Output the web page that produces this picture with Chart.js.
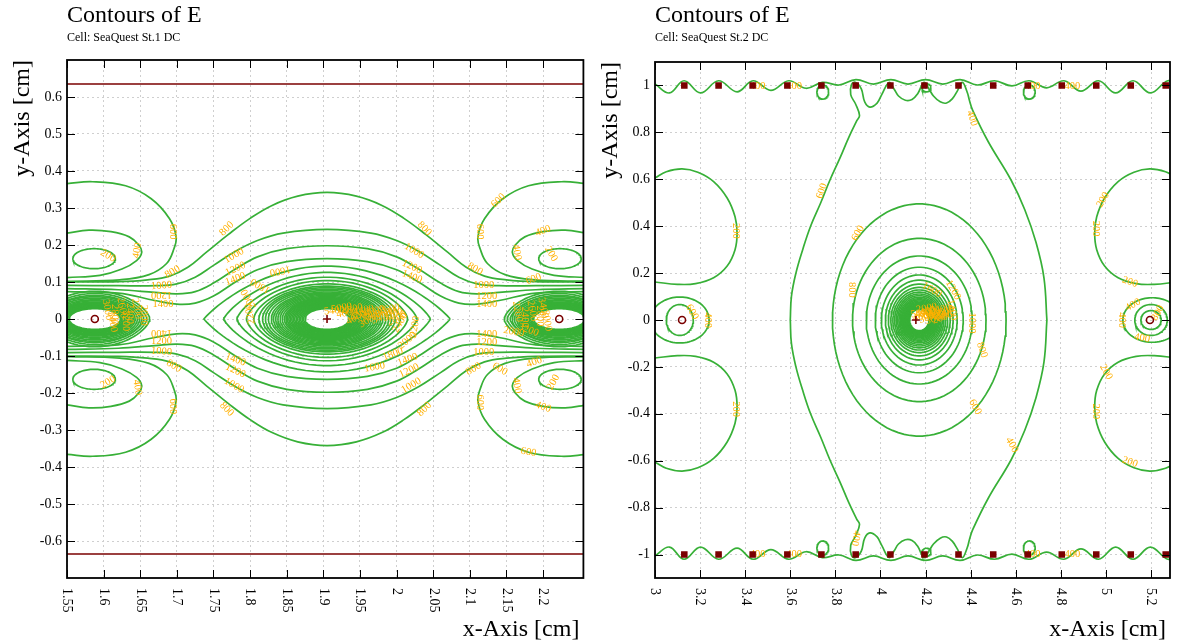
<!DOCTYPE html>
<html>
<head>
<meta charset="utf-8">
<title>Contours of E</title>
<script src="https://cdn.jsdelivr.net/npm/chart.js@4.4.1/dist/chart.umd.min.js"></script>
<style>
  body { margin: 0; background: #fff; }
  #page { position: relative; width: 1178px; height: 643px; }
  canvas { position: absolute; top: 0; }
</style>
</head>
<body>
<div id="page">
  <canvas id="st1" width="589" height="643" style="left:0"></canvas>
  <canvas id="st2" width="589" height="643" style="left:589px"></canvas>
</div>
<script>
const GREEN = '#37b037';
const LABEL = '#ffb000';
const WIRE = '#7a0000';
const SERIF = '"Liberation Serif", "Times New Roman", serif';

// ---------- St.1 (left panel) ----------
const st1XTicks = [1.55, 1.6, 1.65, 1.7, 1.75, 1.8, 1.85, 1.9, 1.95, 2, 2.05, 2.1, 2.15, 2.2];
const st1YTicks = [-0.6, -0.5, -0.4, -0.3, -0.2, -0.1, 0, 0.1, 0.2, 0.3, 0.4, 0.5, 0.6];
const st1Anode = [[1.905, 0]];
const st1FieldWires = [[1.588, 0], [2.222, 0]];
const st1PlaneY = [0.635, -0.635];

// open contours, upper-left half (left edge -> top over the anode)
const st1Open800 = [[1.55, 0.100], [1.62, 0.101], [1.66, 0.106], [1.69, 0.116], [1.715, 0.140], [1.74, 0.180], [1.77, 0.228], [1.80, 0.272], [1.83, 0.307], [1.865, 0.332], [1.905, 0.342]];
const st1Open1000 = [[1.55, 0.091], [1.62, 0.090], [1.67, 0.090], [1.70, 0.095], [1.725, 0.113], [1.75, 0.145], [1.78, 0.183], [1.81, 0.212], [1.845, 0.232], [1.905, 0.242]];
const st1Open1200 = [[1.55, 0.082], [1.62, 0.079], [1.67, 0.072], [1.70, 0.068], [1.725, 0.074], [1.75, 0.097], [1.78, 0.135], [1.81, 0.168], [1.85, 0.190], [1.905, 0.198]];
const st1Open1400 = [[1.55, 0.074], [1.62, 0.070], [1.67, 0.050], [1.70, 0.040], [1.725, 0.043], [1.75, 0.062], [1.78, 0.100], [1.81, 0.133], [1.85, 0.155], [1.905, 0.163]];

// side lobes next to the field wire, upper-left
const st1Lobe600 = [[1.55, 0.366], [1.585, 0.371], [1.63, 0.360], [1.665, 0.325], [1.69, 0.271], [1.699, 0.222], [1.696, 0.190], [1.686, 0.150], [1.662, 0.120], [1.622, 0.106], [1.55, 0.102]];
const st1Lobe400 = [[1.55, 0.232], [1.58, 0.240], [1.61, 0.236], [1.635, 0.222], [1.648, 0.200], [1.652, 0.180], [1.645, 0.158], [1.625, 0.135], [1.595, 0.118], [1.55, 0.112]];
const st1Lobe200 = { cx: 1.587, cy: 0.163, rx: 0.029, ry: 0.027 };

// closed rings round the anode (half widths / half heights)
const st1EyeRx = [0.168, 0.141, 0.123, 0.110, 0.100, 0.093, 0.088, 0.084, 0.080, 0.076, 0.073, 0.070, 0.067, 0.064, 0.061,
  0.058, 0.056, 0.054, 0.052, 0.050, 0.048, 0.046, 0.044, 0.042, 0.040, 0.038, 0.036, 0.034, 0.032, 0.030];
const st1EyeRy = [0.143, 0.126, 0.113, 0.104, 0.095, 0.089, 0.085, 0.081, 0.077, 0.073, 0.070, 0.067, 0.064, 0.061, 0.058,
  0.056, 0.054, 0.052, 0.050, 0.048, 0.046, 0.044, 0.042, 0.040, 0.038, 0.036, 0.034, 0.032, 0.030, 0.028];
const st1EyeTip = [1.8, 1.6, 1.45, 1.3, 1.2, 1.1, 1.05];

// rings round the field wires
const st1WireRx = [0.075, 0.071, 0.067, 0.064, 0.061, 0.058, 0.055, 0.053, 0.051, 0.049, 0.047, 0.045, 0.043, 0.041, 0.039, 0.037, 0.035];
const st1WireRy = [0.075, 0.069, 0.064, 0.060, 0.056, 0.052, 0.049, 0.046, 0.044, 0.042, 0.040, 0.038, 0.036, 0.034, 0.032, 0.030, 0.028];

const st1Labels = [
  [1.606, 0.171, '200', 30], [1.646, 0.185, '400', -80], [1.694, 0.236, '600', 90], [1.694, 0.127, '800', -30],
  [1.679, 0.090, '1000', -5], [1.679, 0.065, '1200', 180], [1.681, 0.040, '1400', 0],
  [1.606, -0.171, '200', -30], [1.646, -0.185, '400', 80], [1.694, -0.236, '600', 90], [1.696, -0.127, '800', 30],
  [1.679, -0.088, '1000', 5], [1.679, -0.060, '1200', 0], [1.679, -0.036, '1400', 180],
  [1.768, 0.244, '800', -45], [1.778, 0.171, '1000', -30], [1.780, 0.135, '1200', -25], [1.780, 0.108, '1400', -20],
  [1.841, 0.130, '1600', 170], [1.814, 0.090, '1800', -150], [1.798, 0.054, '2000', -120], [1.800, 0.014, '2200', -100],
  [1.768, -0.244, '800', 45], [1.778, -0.180, '1000', 30], [1.780, -0.140, '1200', 25], [1.780, -0.110, '1400', 20],
  [2.038, 0.244, '800', 45], [2.024, 0.184, '1000', 30], [2.021, 0.141, '1200', 25], [2.021, 0.114, '1400', 20],
  [2.038, -0.244, '800', -45], [2.020, -0.180, '1000', -30], [2.017, -0.140, '1200', -25], [2.015, -0.110, '1400', -20],
  [1.970, -0.130, '1600', -10], [1.995, -0.095, '1800', -20], [2.015, -0.058, '2000', -40], [2.025, -0.020, '2200', -80],
  [2.139, 0.320, '600', -45], [2.114, 0.236, '600', 90], [2.200, 0.238, '400', -20], [2.164, 0.180, '400', 80],
  [2.211, 0.176, '200', 60], [2.187, 0.108, '600', -20], [2.107, 0.135, '800', 30],
  [2.119, 0.090, '1000', 0], [2.123, 0.062, '1200', 0], [2.123, 0.041, '1400', 0],
  [2.123, -0.041, '1400', 0], [2.123, -0.062, '1200', 0], [2.119, -0.090, '1000', 0],
  [2.105, -0.135, '800', -30], [2.141, -0.135, '600', 30], [2.188, -0.117, '400', -20],
  [2.214, -0.171, '200', -60], [2.164, -0.180, '400', 80], [2.114, -0.225, '600', 90], [2.200, -0.238, '400', 20], [2.180, -0.360, '600', 10],
  // crowded labels next to the wires
  [1.925, 0.030, '5000', -10], [1.940, 0.026, '4800', -15], [1.955, 0.024, '4400', -10], [1.970, 0.021, '4000', -15],
  [1.985, 0.017, '3600', -10], [1.995, 0.011, '3200', -20], [2.000, 0.002, '2800', -30], [1.932, 0.016, '4600', -10],
  [1.950, 0.011, '4200', -20], [1.965, 0.007, '3800', -15], [1.980, 0.004, '3400', -20], [1.945, 0.003, '4000', -25],
  [1.962, -0.003, '3000', -30], [1.990, 0.027, '2600', -10], [2.005, -0.010, '2400', -60], [1.915, 0.022, '5400', -5],
  [1.605, 0.025, '3000', 80], [1.615, 0.012, '2800', 90], [1.625, 0.030, '2600', 80], [1.635, 0.015, '2400', 90],
  [1.645, 0.028, '2200', 80], [1.655, 0.010, '2000', 90], [1.612, -0.008, '3400', 80], [1.630, -0.005, '3200', 90],
  [2.165, 0.020, '2200', 80], [2.175, 0.005, '2400', 90], [2.185, 0.022, '2600', 80], [2.195, 0.008, '2800', 90],
  [2.205, -0.005, '3000', 80], [2.180, -0.030, '3200', 20], [2.160, -0.035, '2000', 10], [2.200, 0.030, '3400', 80]
];

// ---------- St.2 (right panel) ----------
const st2XTicks = [3, 3.2, 3.4, 3.6, 3.8, 4, 4.2, 4.4, 4.6, 4.8, 5, 5.2];
const st2YTicks = [-1, -0.8, -0.6, -0.4, -0.2, 0, 0.2, 0.4, 0.6, 0.8, 1];
const st2Anode = [[4.157, 0]];
const st2FieldWires = [[3.12, 0], [5.195, 0]];
const st2CathodeX = [3.130, 3.282, 3.433, 3.587, 3.738, 3.890, 4.044, 4.195, 4.346, 4.500, 4.653, 4.804, 4.957, 5.110, 5.265];
const st2CathodeY = [1, -1];

// wavy contour along the upper cathode row
const st2TopWave = [[3.0, 1.006], [3.064, 0.968], [3.129, 1.020], [3.202, 0.968], [3.282, 1.020], [3.364, 0.973], [3.435, 1.020],
  [3.514, 0.979], [3.593, 1.020], [3.670, 0.988], [3.742, 1.013], [3.816, 1.002], [3.891, 1.025], [3.969, 1.006], [4.046, 1.025],
  [4.122, 1.006], [4.200, 1.025], [4.276, 1.006], [4.353, 1.025], [4.430, 1.002], [4.506, 1.020], [4.583, 0.998], [4.659, 1.020],
  [4.737, 0.990], [4.814, 1.020], [4.889, 0.976], [4.967, 1.020], [5.043, 0.968], [5.120, 1.020], [5.197, 0.968], [5.274, 1.020], [5.31, 1.0]];
const st2WireLoops = [[3.744, 0.972, 0.026, 0.030], [4.660, 0.972, 0.026, 0.030], [4.204, 0.990, 0.020, 0.017]];

// big 400 contour, upper half, left to right
const st2Outer400 = [[3.60, 0], [3.605, 0.10], [3.625, 0.20], [3.655, 0.30], [3.690, 0.40], [3.735, 0.50], [3.776, 0.597], [3.82, 0.690],
  [3.86, 0.780], [3.895, 0.850], [3.907, 0.872], [3.890, 0.920], [3.868, 0.961], [3.872, 1.005], [3.890, 1.013], [3.915, 0.985],
  [3.930, 0.930], [3.953, 0.908], [3.985, 0.925], [4.005, 0.960], [4.038, 1.013], [4.060, 0.985], [4.080, 0.955], [4.110, 0.937],
  [4.140, 0.940], [4.165, 0.965], [4.193, 1.013], [4.215, 0.985], [4.235, 0.955], [4.265, 0.930], [4.293, 0.925], [4.320, 0.945],
  [4.340, 0.975], [4.363, 1.013], [4.385, 0.970], [4.394, 0.938], [4.409, 0.894], [4.478, 0.760], [4.579, 0.597], [4.640, 0.470],
  [4.690, 0.330], [4.725, 0.180], [4.738, 0]];

// side lobes at the cell edge, upper-left
const st2SideLobe = [[3.0, 0.606], [3.05, 0.632], [3.12, 0.644], [3.19, 0.630], [3.26, 0.590], [3.32, 0.520], [3.355, 0.440],
  [3.364, 0.371], [3.355, 0.300], [3.32, 0.230], [3.26, 0.180], [3.18, 0.155], [3.10, 0.152], [3.0, 0.162]];

// rings round field wires: [cx, rx, ry]
const st2FieldRings = [[3.11, 0.130, 0.098], [3.11, 0.060, 0.066], [5.205, 0.130, 0.095], [5.20, 0.072, 0.066], [5.20, 0.045, 0.040]];

// rings round the anode
const st2RingCx = 4.172;
const st2RingRx = [0.385, 0.296, 0.235, 0.195, 0.168, 0.150, 0.137, 0.126, 0.117, 0.109, 0.102, 0.096, 0.090, 0.085, 0.080,
  0.076, 0.072, 0.068, 0.064, 0.061, 0.058, 0.055, 0.052, 0.049, 0.046, 0.043];
const st2RingRy = [0.495, 0.348, 0.273, 0.225, 0.192, 0.170, 0.153, 0.139, 0.128, 0.119, 0.111, 0.104, 0.097, 0.091, 0.086,
  0.081, 0.076, 0.072, 0.068, 0.064, 0.060, 0.057, 0.054, 0.051, 0.048, 0.045];

const st2Labels = [
  [3.235, 0.0, '400', 90], [3.164, 0.034, '600', 60], [3.36, 0.38, '200', 90], [3.36, -0.38, '200', 90],
  [4.955, 0.39, '200', 90], [4.955, -0.39, '200', 90], [4.987, 0.512, '200', -60], [5.106, 0.162, '200', 20],
  [5.0, -0.222, '200', 60], [5.106, -0.606, '200', 20],
  [5.07, 0.0, '400', 90], [5.12, 0.064, '400', -30], [5.16, -0.077, '400', 10], [5.23, 0.03, '800', -60],
  [3.90, 0.37, '600', -60], [3.874, 0.128, '800', 90], [4.406, -0.013, '1000', 90], [4.45, -0.128, '800', 70],
  [4.419, -0.371, '600', 60], [4.583, -0.533, '400', 60], [4.322, 0.128, '1200', 60], [4.317, 0.043, '1400', 80],
  [4.228, 0.128, '1600', 30], [4.406, 0.86, '400', 70], [3.89, -0.93, '400', 100], [3.74, 0.55, '600', -70],
  [3.455, 0.998, '400', 0], [3.617, 0.998, '400', 0], [4.675, 0.998, '400', 0], [4.851, 0.998, '400', 0],
  [3.455, -0.998, '400', 0], [3.617, -0.998, '400', 0], [4.675, -0.998, '400', 0], [4.851, -0.998, '400', 0],
  [4.180, 0.030, '5000', -10], [4.200, 0.034, '4400', -15], [4.220, 0.030, '4000', -10], [4.240, 0.025, '3600', -15],
  [4.260, 0.020, '3200', -10], [4.275, 0.010, '2800', -20], [4.190, 0.015, '4600', -10], [4.215, 0.012, '3800', -20],
  [4.245, 0.005, '3000', -15], [4.265, 0.045, '2400', -10], [4.285, 0.030, '2200', -30], [4.205, 0.050, '2000', -10]
];

// ---------- helpers ----------
const pts = a => a.map(([x, y]) => ({ x, y }));
const flipY = a => a.map(p => ({ x: p.x, y: -p.y }));
const flipX = (a, cx) => a.map(p => ({ x: 2 * cx - p.x, y: p.y }));

function ring(cx, cy, rx, ry, tip) {
  const out = [];
  for (let i = 0; i <= 90; i++) {
    const t = (i / 90) * 2 * Math.PI;
    const s = Math.sin(t);
    out.push({ x: cx + rx * Math.cos(t), y: cy + ry * Math.sign(s) * Math.pow(Math.abs(s), tip || 1) });
  }
  return out;
}

function contour(data, tension) {
  return { data, showLine: true, borderColor: GREEN, borderWidth: 1.7, pointRadius: 0, tension: tension, order: 2 };
}

function markers(list, style, filled, r) {
  return {
    data: pts(list), showLine: false, pointStyle: style, pointRadius: r, borderColor: WIRE, borderWidth: 1.6,
    backgroundColor: filled ? WIRE : 'rgba(0,0,0,0)', order: 0
  };
}

// ---------- build St.1 datasets ----------
const st1Sets = [];
const c1 = 1.905;
[st1Open800, st1Open1000, st1Open1200, st1Open1400].forEach(h => {
  const half = pts(h);
  const upper = half.concat(flipX(half.slice().reverse(), c1).slice(1));
  st1Sets.push(contour(upper, 0.4), contour(flipY(upper), 0.4));
});
[st1Lobe600, st1Lobe400].forEach(h => {
  const l = pts(h);
  const r = flipX(l, c1);
  st1Sets.push(contour(l, 0.4), contour(flipY(l), 0.4), contour(r, 0.4), contour(flipY(r), 0.4));
});
[[st1Lobe200.cx, st1Lobe200.cy], [st1Lobe200.cx, -st1Lobe200.cy], [2 * c1 - st1Lobe200.cx, st1Lobe200.cy], [2 * c1 - st1Lobe200.cx, -st1Lobe200.cy]]
  .forEach(([cx, cy]) => st1Sets.push(contour(ring(cx, cy, st1Lobe200.rx, st1Lobe200.ry), 0)));
st1EyeRx.forEach((rx, i) => st1Sets.push(contour(ring(c1, 0, rx, st1EyeRy[i], st1EyeTip[i] || 1), 0)));
st1FieldWires.forEach(([wx]) => {
  st1WireRx.forEach((rx, i) => st1Sets.push(contour(ring(wx, 0, rx, st1WireRy[i], i < 3 ? 1.3 : 1), 0)));
});
st1PlaneY.forEach(py => st1Sets.push({
  data: [{ x: 1.5, y: py }, { x: 2.3, y: py }], showLine: true, borderColor: WIRE, borderWidth: 1.5, pointRadius: 0, order: 1
}));
st1Sets.push(markers(st1Anode, 'cross', false, 4), markers(st1FieldWires, 'circle', false, 3.5));

// ---------- build St.2 datasets ----------
const st2Sets = [];
const c2 = 4.157;
const wave = pts(st2TopWave);
st2Sets.push(contour(wave, 0.4), contour(flipY(wave), 0.4));
st2WireLoops.forEach(([cx, cy, rx, ry]) => st2Sets.push(contour(ring(cx, cy, rx, ry), 0), contour(ring(cx, -cy, rx, ry), 0)));
const outer = pts(st2Outer400);
st2Sets.push(contour(outer, 0.4), contour(flipY(outer), 0.4));
const side = pts(st2SideLobe);
st2Sets.push(contour(side, 0.4), contour(flipY(side), 0.4), contour(flipX(side, c2), 0.4), contour(flipY(flipX(side, c2)), 0.4));
st2FieldRings.forEach(([cx, rx, ry]) => st2Sets.push(contour(ring(cx, 0, rx, ry), 0)));
st2RingRx.forEach((rx, i) => st2Sets.push(contour(ring(st2RingCx, 0, rx, st2RingRy[i], 1), 0)));
const cathodes = [];
st2CathodeY.forEach(y => st2CathodeX.forEach(x => cathodes.push([x, y])));
st2Sets.push(markers(cathodes, 'rect', true, 3.5), markers(st2Anode, 'cross', false, 4), markers(st2FieldWires, 'circle', false, 3.5));

// ---------- drawing ----------
function panelPlugin(p) {
  let labelsDone = false;
  const drawLabels = chart => {
    const { ctx, chartArea: a, scales: { x, y } } = chart;
    ctx.save();
    ctx.beginPath();
    ctx.rect(a.left, a.top, a.width, a.height);
    ctx.clip();
    ctx.fillStyle = LABEL;
    ctx.font = '10.5px ' + SERIF;
    ctx.textAlign = 'center';
    ctx.textBaseline = 'middle';
    p.labels.forEach(([lx, ly, t, ang]) => {
      ctx.save();
      ctx.translate(x.getPixelForValue(lx), y.getPixelForValue(ly));
      ctx.rotate(ang * Math.PI / 180);
      ctx.fillText(t, 0, 0);
      ctx.restore();
    });
    ctx.restore();
  };
  return {
    id: 'panel' + p.name,
    beforeDatasetsDraw() { labelsDone = false; },
    beforeDatasetDraw(chart, args) {
      if (!labelsDone && args.meta.order === 0) { drawLabels(chart); labelsDone = true; }
    },
    afterDraw(chart) {
      const { ctx, chartArea: a, scales: { x, y } } = chart;
      ctx.save();
      ctx.strokeStyle = '#000';
      ctx.lineWidth = 1;
      ctx.beginPath();
      p.xTicks.forEach(v => {
        const px = Math.round(x.getPixelForValue(v)) + 0.5;
        ctx.moveTo(px, a.bottom); ctx.lineTo(px, a.bottom - 8);
        ctx.moveTo(px, a.top); ctx.lineTo(px, a.top + 8);
      });
      p.yTicks.forEach(v => {
        const py = Math.round(y.getPixelForValue(v)) + 0.5;
        ctx.moveTo(a.left, py); ctx.lineTo(a.left + 8, py);
        ctx.moveTo(a.right, py); ctx.lineTo(a.right - 8, py);
      });
      ctx.stroke();
      ctx.lineWidth = 1.8;
      ctx.strokeRect(a.left, a.top, a.width, a.height);

      ctx.fillStyle = '#000';
      ctx.font = '14px ' + SERIF;
      ctx.textAlign = 'right';
      ctx.textBaseline = 'middle';
      p.yTicks.forEach(v => ctx.fillText(String(v), a.left - 5, y.getPixelForValue(v)));
      ctx.textAlign = 'left';
      p.xTicks.forEach(v => {
        ctx.save();
        ctx.translate(x.getPixelForValue(v), a.bottom + 10);
        ctx.rotate(Math.PI / 2);
        ctx.fillText(String(v), 0, 0);
        ctx.restore();
      });

      ctx.textBaseline = 'alphabetic';
      ctx.font = '24px ' + SERIF;
      ctx.fillText('Contours of E', a.left, 22);
      ctx.font = '12px ' + SERIF;
      ctx.fillText(p.subtitle, a.left, 41);
      ctx.font = '24px ' + SERIF;
      ctx.textAlign = 'right';
      ctx.fillText('x-Axis [cm]', a.right - 4, 636);
      ctx.save();
      ctx.translate(p.yTitleX, a.top);
      ctx.rotate(-Math.PI / 2);
      ctx.fillText('y-Axis [cm]', 0, 0);
      ctx.restore();
      ctx.restore();
    }
  };
}

function makePanel(p) {
  const axis = (min, max, ticks) => ({
    type: 'linear', min, max,
    afterBuildTicks: s => { s.ticks = ticks.map(v => ({ value: v })); },
    ticks: { display: false },
    grid: { color: '#cfcfcf', lineWidth: 1, drawTicks: false },
    border: { display: false, dash: [2, 3] }
  });
  return new Chart(document.getElementById(p.name), {
    type: 'scatter',
    data: { datasets: p.sets },
    options: {
      responsive: false,
      animation: false,
      devicePixelRatio: 1,
      layout: { padding: p.pad },
      plugins: { legend: { display: false }, tooltip: { enabled: false } },
      scales: { x: axis(p.xMin, p.xMax, p.xTicks), y: axis(p.yMin, p.yMax, p.yTicks) }
    },
    plugins: [panelPlugin(p)]
  });
}

makePanel({
  name: 'st1', sets: st1Sets, labels: st1Labels, subtitle: 'Cell: SeaQuest St.1 DC',
  xMin: 1.55, xMax: 2.255, yMin: -0.70, yMax: 0.70, xTicks: st1XTicks, yTicks: st1YTicks,
  pad: { left: 67, right: 2, top: 60, bottom: 65 }, yTitleX: 29
});
makePanel({
  name: 'st2', sets: st2Sets, labels: st2Labels, subtitle: 'Cell: SeaQuest St.2 DC',
  xMin: 3.0, xMax: 5.284, yMin: -1.1, yMax: 1.1, xTicks: st2XTicks, yTicks: st2YTicks,
  pad: { left: 66, right: 8, top: 62, bottom: 65 }, yTitleX: 28
});
</script>
</body>
</html>
